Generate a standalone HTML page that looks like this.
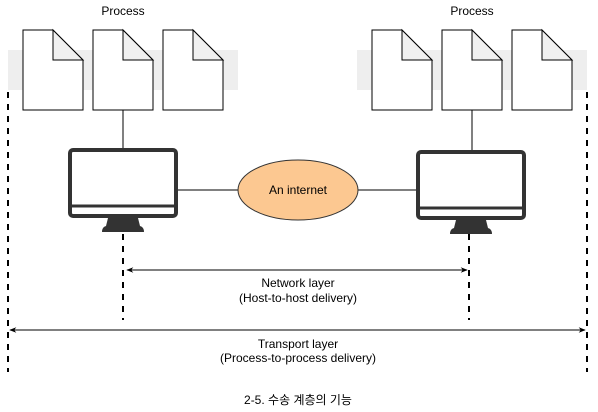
<!DOCTYPE html>
<html><head><meta charset="utf-8"><style>
body{margin:0;background:#fff;width:598px;height:412px;overflow:hidden}
svg{display:block}
text{font-family:"Liberation Sans","Noto Sans CJK KR",sans-serif;font-size:12px;fill:#000;text-anchor:middle}
</style></head><body>
<svg width="598" height="412" viewBox="0 0 598 412" xmlns="http://www.w3.org/2000/svg">
<defs>
<marker id="a" viewBox="0 0 10 10" refX="9" refY="5" markerWidth="7" markerHeight="7" orient="auto-start-reverse"><path d="M0,1 L10,5 L0,9 L3,5 z" fill="#000"/></marker>
<g id="doc"><path d="M0,0 H30 L60,30 V80 H0 Z" fill="#fff" stroke="#000"/><path d="M30,0 V30 H60 Z" fill="#f0f0f0" stroke="#000"/></g>
<g id="mon"><rect x="2" y="2" width="106" height="66" rx="3" fill="#fff" stroke="#333" stroke-width="4"/><line x1="4" y1="58" x2="106" y2="58" stroke="#333" stroke-width="3"/><path d="M40,70 H70 L72,78 Q76,79 76,84 H34 Q34,79 38,78 Z" fill="#333"/></g>
</defs>
<rect x="8" y="50" width="230" height="40" fill="#eeeeee"/>
<rect x="357" y="50" width="230" height="40" fill="#eeeeee"/>
<text x="123" y="15">Process</text>
<text x="472" y="15">Process</text>
<use href="#doc" x="23" y="30"/><use href="#doc" x="93" y="30"/><use href="#doc" x="163" y="30"/>
<use href="#doc" x="372" y="30"/><use href="#doc" x="442" y="30"/><use href="#doc" x="512" y="30"/>
<line x1="123" y1="110" x2="123" y2="148" stroke="#000"/>
<line x1="472" y1="110" x2="472" y2="150" stroke="#000"/>
<line x1="178" y1="190" x2="238" y2="190" stroke="#000"/>
<line x1="358" y1="190" x2="418" y2="190" stroke="#000"/>
<ellipse cx="298" cy="190" rx="60" ry="30" fill="#fcc891" stroke="#333"/>
<text x="298" y="194">An internet</text>
<use href="#mon" x="68" y="148"/>
<use href="#mon" x="416" y="150"/>
<g stroke="#000" stroke-width="2" stroke-dasharray="6,6">
<line x1="8" y1="92" x2="8" y2="372"/>
<line x1="587" y1="92" x2="587" y2="372"/>
<line x1="123" y1="234" x2="123" y2="320"/>
<line x1="469" y1="234" x2="469" y2="320"/>
</g>
<line x1="127" y1="270" x2="467" y2="270" stroke="#000" marker-start="url(#a)" marker-end="url(#a)"/>
<line x1="10" y1="330" x2="585" y2="330" stroke="#000" marker-start="url(#a)" marker-end="url(#a)"/>
<text x="298" y="287">Network layer</text>
<text x="298" y="302">(Host-to-host delivery)</text>
<text x="298" y="348">Transport layer</text>
<text x="298" y="362">(Process-to-process delivery)</text>
<text x="298" y="404">2-5. 수송 계층의 기능</text>
</svg>
</body></html>
